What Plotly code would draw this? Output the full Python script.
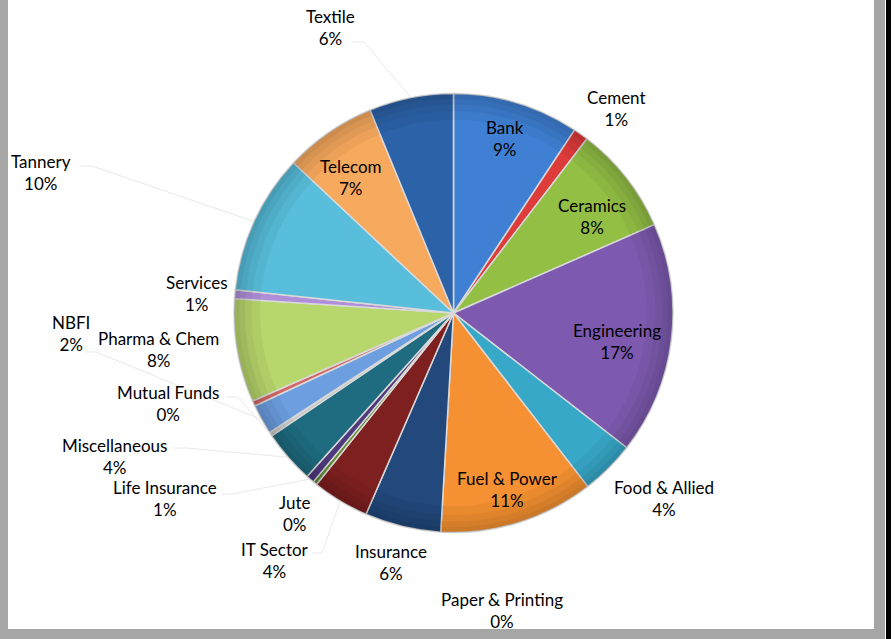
import math
import plotly.graph_objects as go

# ---- data ----
sectors = ["Bank", "Cement", "Ceramics", "Engineering", "Food & Allied", "Fuel & Power",
           "Insurance", "IT Sector", "Jute", "Life Insurance", "Miscellaneous", "Mutual Funds",
           "NBFI", "Paper & Printing", "Pharma & Chem", "Services", "Tannery", "Telecom", "Textile"]
shares = [9.3, 1.1, 8.0, 17.1, 4.0, 11.4,
          5.6, 4.2, 0.3, 0.6, 3.9, 0.3,
          2.2, 0.4, 7.6, 0.65, 10.3, 6.8, 6.2]

# ---- styles ----
colors = ["#3F80D4", "#DE3B3B", "#93BF45", "#7D5AAF", "#38A8C8", "#F59132",
          "#22487C", "#7E2020", "#5E8A2C", "#4E3A7C", "#1F6C80", "#C9C9C9",
          "#6C9EE0", "#D56464", "#B7D66C", "#AE8FD8", "#58BEDB", "#F7A95E", "#2C62A8"]

# label block centres (pixels)
label_pos = {
    "Bank": (505, 138), "Cement": (616, 108), "Ceramics": (592, 216), "Engineering": (617, 341),
    "Food & Allied": (664, 498), "Fuel & Power": (507, 489), "Insurance": (391, 562),
    "IT Sector": (275, 560), "Jute": (294, 513), "Life Insurance": (165, 499),
    "Miscellaneous": (115, 456), "Mutual Funds": (168, 403), "NBFI": (71, 333),
    "Paper & Printing": (502, 610), "Pharma & Chem": (158, 349), "Services": (197, 293),
    "Tannery": (41, 172), "Telecom": (351, 177), "Textile": (330, 28),
}
# leader line start and elbow points (pixels), line ends on the slice rim
leader_pts = {
    "Textile": [(352, 42), (364, 42)],
    "Tannery": [(80, 166), (92, 166)],
    "NBFI": [(86, 352), (96, 352)],
    "Mutual Funds": [(226, 397), (238, 397)],
    "Miscellaneous": [(174, 448), (186, 448)],
    "Life Insurance": [(222, 494), (232, 494)],
    "IT Sector": [(312, 553), (322, 553)],
}

W, H = 896, 639
CX, CY, R = 453.5, 313.0, 219.5
FONT = dict(family="Lato", size=17, color="#000000")
dom = dict(x=[(CX - R) / W, (CX + R) / W], y=[(H - CY - R) / H, (H - CY + R) / H])

fig = go.Figure()
fig.add_trace(go.Pie(
    labels=sectors, values=shares, sort=False, direction="clockwise", rotation=0,
    marker=dict(colors=colors, line=dict(color="#D9D9D9", width=1.5)),
    textinfo="none", hoverinfo="label+percent", domain=dom, showlegend=False,
))
# subtle darker rim rings to hint the bevel
for hole in (0.88, 0.92, 0.95, 0.975):
    fig.add_trace(go.Pie(
        labels=sectors, values=shares, sort=False, direction="clockwise", rotation=0, hole=hole,
        marker=dict(colors=["rgba(0,0,0,0.045)"] * len(sectors), line=dict(width=0)),
        textinfo="none", hoverinfo="skip", domain=dom, showlegend=False,
    ))

total = sum(shares)
cum = 0.0
annotations = []
shapes = []
for name, v in zip(sectors, shares):
    mid = (cum + v / 2) / total * 2 * math.pi
    cum += v
    pct = round(v / total * 100)
    lx, ly = label_pos[name]
    annotations.append(dict(
        x=lx / W, y=1 - ly / H, xref="paper", yref="paper", xanchor="center", yanchor="middle",
        text=f"{name}<br>{pct}%", showarrow=False, font=FONT, align="center"))
    if name in leader_pts:
        ex = CX + R * math.sin(mid)
        ey = CY - R * math.cos(mid)
        pts = leader_pts[name] + [(ex, ey)]
        path = "M " + " L ".join(f"{px / W:.5f},{1 - py / H:.5f}" for px, py in pts)
        shapes.append(dict(type="path", xref="paper", yref="paper", path=path,
                           line=dict(color="#E8E8E8", width=1), layer="above"))

shapes += [
    dict(type="rect", xref="paper", yref="paper", x0=0, x1=8 / W, y0=0, y1=1,
         fillcolor="#A6A6A6", line_width=0, layer="below"),
    dict(type="rect", xref="paper", yref="paper", x0=0, x1=885 / W, y0=0, y1=1 - 629 / H,
         fillcolor="#A6A6A6", line_width=0, layer="below"),
    dict(type="rect", xref="paper", yref="paper", x0=874 / W, x1=885 / W, y0=0, y1=1,
         fillcolor="#A6A6A6", line_width=0, layer="below"),
    dict(type="rect", xref="paper", yref="paper", x0=886 / W, x1=891 / W, y0=0, y1=1,
         fillcolor="#000000", line_width=0, layer="below"),
]

fig.update_layout(
    width=W, height=H, margin=dict(l=0, r=0, t=0, b=0),
    paper_bgcolor="#FFFFFF", plot_bgcolor="#FFFFFF",
    annotations=annotations, shapes=shapes, font=FONT,
)
fig.write_html("out.html", config={"displayModeBar": False},
               post_script="document.body.style.margin='0';document.body.style.padding='0';"
                           "document.body.style.overflow='hidden';")
